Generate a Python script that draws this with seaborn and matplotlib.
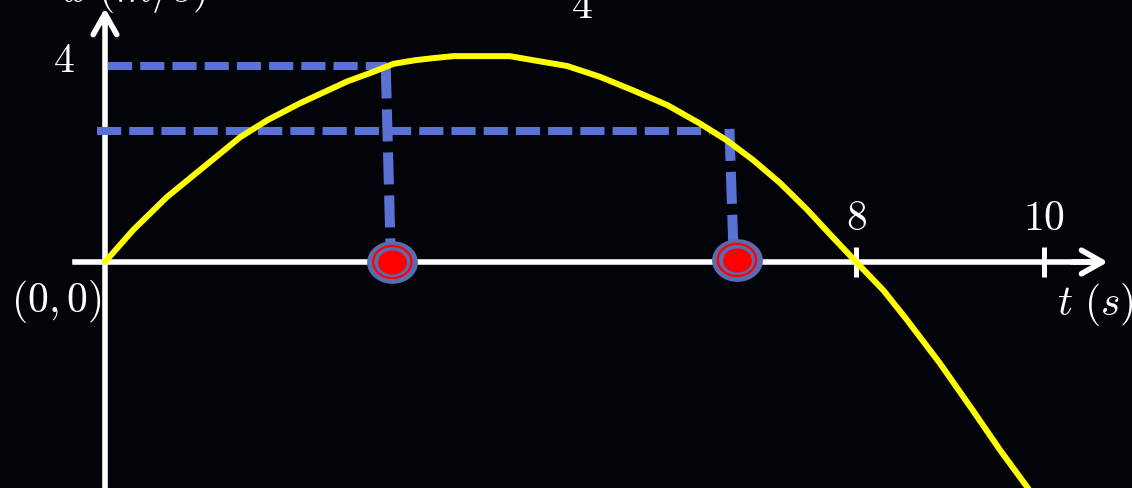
import numpy as np
import pandas as pd
import seaborn as sns
import matplotlib.pyplot as plt
from matplotlib.path import Path

# curve: t in s, x in m
t_vals = [0.0, 0.30, 0.66, 1.01, 1.44, 1.73, 2.08, 2.58, 2.85, 3.07, 3.30, 3.49, 3.71,
          3.99, 4.31, 4.66, 4.92, 5.27, 5.62, 5.99, 6.33, 6.62, 6.90, 7.19, 7.48,
          7.75, 8.0, 8.29, 8.54, 8.89, 9.24, 9.53, 9.82, 9.92]
x_vals = [0.0, 0.62, 1.26, 1.78, 2.42, 2.75, 3.08, 3.50, 3.68, 3.84, 3.91, 3.95, 3.99,
          3.99, 3.99, 3.88, 3.80, 3.59, 3.33, 3.04, 2.69, 2.36, 1.98, 1.53, 1.01,
          0.48, 0.0, -0.55, -1.12, -1.96, -2.87, -3.64, -4.36, -4.62]

# marked instants on the t axis
dot_t = [3.06, 6.73]
dot_x = [0.0, 0.04]

# dashed guides
guide_level = [3.79, 2.53]
guide_from = [0.03, -0.09]
guide_to = [3.0, 6.44]
drop_t_top = [2.99, 6.65]
drop_t_bot = [3.04, 6.69]
drop_x_top = [3.79, 2.58]
drop_x_bot = [0.33, 0.37]

x_ticks = [8, 10]
x_tick_labels = ["$8$", "$10$"]
y_ticks = [4]
y_tick_labels = ["$4$"]

bg = "#03040a"
blue = "#5a72d6"
ring_blue = "#5b6bb0"

sns.set_style("dark", {"axes.facecolor": bg, "figure.facecolor": bg})
plt.rcParams["mathtext.fontset"] = "cm"
plt.rcParams["font.family"] = ["DejaVu Serif"]

fig = plt.figure(figsize=(11.32, 4.88), dpi=100)
ax = fig.add_axes([0, 0, 1, 1])
ax.set_facecolor(bg)
ax.set_xlim(-1.118, 10.937)
ax.set_ylim(-4.38, 5.078)
ax.grid(False)

# axes through the origin
for s in ["bottom", "right"]:
    ax.spines[s].set_visible(False)
ax.spines["top"].set_position(("data", 0))
ax.spines["left"].set_position(("data", 0))
ax.spines["top"].set_bounds(-0.32, 10.5)
ax.spines["left"].set_bounds(-4.38, 4.75)
for s in ["top", "left"]:
    ax.spines[s].set_color("white")
    ax.spines[s].set_linewidth(4)
    ax.spines[s].set_zorder(2)

ax.xaxis.tick_top()
ax.set_xticks(x_ticks)
ax.set_xticklabels(x_tick_labels)
ax.set_yticks(y_ticks)
ax.set_yticklabels(y_tick_labels)
ax.tick_params(axis="both", direction="inout", length=21.6, width=3.6,
               color="white", labelcolor="white", labelsize=30)
ax.tick_params(axis="x", pad=6)
ax.tick_params(axis="y", pad=11)

# arrow heads
arrow = dict(arrowstyle="->,head_length=15,head_width=8.5", color="white",
             lw=4, shrinkA=0, shrinkB=0, mutation_scale=1)
ax.annotate("", xy=(10.68, 0), xytext=(10.3, 0), arrowprops=arrow)
ax.annotate("", xy=(0, 4.92), xytext=(0, 4.6), arrowprops=arrow)

# dashed guides
for lvl, a, b in zip(guide_level, guide_from, guide_to):
    ax.plot([a, b], [lvl, lvl], color=blue, lw=5.8, dashes=(3, 1), zorder=3)
for t0, t1, y0, y1 in zip(drop_t_top, drop_t_bot, drop_x_top, drop_x_bot):
    ax.plot([t0, t1], [y0, y1], color=blue, lw=7.2, dashes=(3.2, 1.1), zorder=3)

# curve
curve = pd.DataFrame({"t": t_vals, "x": x_vals})
sns.lineplot(data=curve, x="t", y="x", sort=False, color="#ffff00", lw=4.3,
             ax=ax, zorder=4)

# marked points: blue disc, red ring, red core
th = np.linspace(0, 2 * np.pi, 60)
oval = Path(np.column_stack([np.cos(th), 0.84 * np.sin(th)]), closed=True)
dots = pd.DataFrame({"t": dot_t, "x": dot_x})
sns.scatterplot(data=dots, x="t", y="x", marker=oval, s=1340, color=ring_blue,
                linewidth=0, ax=ax, zorder=5)
sns.scatterplot(data=dots, x="t", y="x", marker=oval, s=760, facecolor="none",
                edgecolor="#ff0000", linewidth=1.6, ax=ax, zorder=6)
sns.scatterplot(data=dots, x="t", y="x", marker=oval, s=430, color="#ff0000",
                linewidth=0, ax=ax, zorder=7)

ax.set_xlabel("")
ax.set_ylabel("")

# text labels
ax.text(-0.03, -0.77, "$(0,0)$", color="white", fontsize=30, ha="right", va="center")
ax.text(10.14, -1.03, "$t\\ (s)$", color="white", fontsize=30, ha="left", va="baseline")
ax.text(-0.45, 5.03, "$x\\ (m/s)$", color="white", fontsize=30, ha="left", va="baseline")
ax.text(5.08, 4.73, "$4$", color="white", fontsize=30, ha="center", va="baseline")

fig.savefig("out.png", dpi=100, facecolor=bg)
